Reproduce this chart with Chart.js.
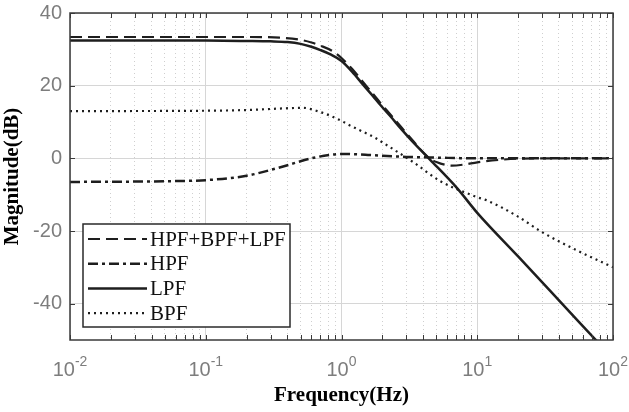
<!DOCTYPE html>
<html>
<head>
<meta charset="utf-8">
<script src="https://cdn.jsdelivr.net/npm/chart.js@4.4.0/dist/chart.umd.min.js"></script>
<style>
  html, body { margin:0; padding:0; background:#fff; }
  #wrap { width:629px; height:412px; position:relative; }
</style>
</head>
<body>
<div id="wrap"><canvas id="bode"></canvas></div>
<script>
// tick values
const X_MAJOR = [0.01, 0.1, 1, 10, 100];
const X_EXP = ["-2", "-1", "0", "1", "2"];
const Y_TICKS = [-40, -20, 0, 20, 40];

// HPF+BPF+LPF (dashed)
const SUM_F  = [0.01, 0.1, 0.2, 0.35, 0.5, 0.6, 0.7, 0.85, 1, 1.2, 1.44, 1.7, 1.92, 2.3, 2.78, 3.3, 4.3, 5, 6.5, 8, 10, 14.8, 20, 40, 100];
const SUM_DB = [33.4, 33.4, 33.4, 33.2, 32.6, 31.9, 31, 29.6, 27.6, 24.6, 21, 17.8, 15.4, 12, 8.4, 5.2, 0.4, -1, -2, -1.7, -1.1, -0.4, -0.1, 0, 0];

// HPF (dash-dot)
const HPF_F  = [0.01, 0.05, 0.1, 0.2, 0.3, 0.4, 0.5, 0.65, 0.85, 1, 1.5, 2, 3, 5, 10, 100];
const HPF_DB = [-6.5, -6.3, -6, -4.8, -3.2, -1.9, -0.8, 0.3, 1.0, 1.2, 1.0, 0.7, 0.4, 0.2, 0, 0];

// LPF (solid)
const LPF_F  = [0.01, 0.1, 0.2, 0.3, 0.4, 0.5, 0.6, 0.7, 0.83, 1, 1.2, 1.44, 1.7, 1.92, 2.3, 2.78, 3.3, 4.5, 7.1, 10, 20, 50, 76, 100];
const LPF_DB = [32.4, 32.4, 32.3, 32.2, 32.0, 31.5, 30.7, 29.8, 28.6, 26.8, 23.8, 20.3, 17.2, 14.8, 11.5, 7.9, 4.8, -0.4, -8.2, -15, -27, -43, -50.3, -55];

// BPF (dotted)
const BPF_F  = [0.01, 0.1, 0.2, 0.35, 0.52, 0.69, 0.83, 1, 1.16, 1.3, 1.76, 2.04, 3.39, 5.3, 10, 11.8, 19.5, 30, 54, 100];
const BPF_DB = [13, 13.1, 13.3, 13.7, 13.9, 12.8, 11.7, 10.3, 9, 8.1, 5.7, 4.2, -1.1, -6.2, -10.7, -11.6, -15.8, -20.3, -25.3, -30];

const pts = (fs, ds) => fs.map((f, i) => ({ x: f, y: ds[i] }));

// minor grid positions 2..9 per decade
const X_MINOR = [];
for (let e = -2; e < 2; e++) for (let m = 2; m <= 9; m++) X_MINOR.push(m * Math.pow(10, e));

const INK = "#1e1e1e";
const TICK_FONT = "Liberation Sans, Arial, sans-serif";
const SERIF = "Liberation Serif, Times New Roman, serif";

const lineBase = { fill:false, pointRadius:0, cubicInterpolationMode:"monotone", borderColor: INK };

// frame with inside tick marks (matlab style box)
const framePlugin = {
  id: "frame",
  afterDatasetsDraw(chart){
    const { ctx, chartArea: a, scales } = chart;
    ctx.save();
    ctx.strokeStyle = "#3a3a3a";
    ctx.lineWidth = 1;
    ctx.beginPath();
    const tl = 5;
    [...X_MAJOR, ...X_MINOR].forEach(v => {
      const px = Math.round(scales.x.getPixelForValue(v)) + 0.5;
      ctx.moveTo(px, a.bottom); ctx.lineTo(px, a.bottom - tl);
      ctx.moveTo(px, a.top); ctx.lineTo(px, a.top + tl);
    });
    Y_TICKS.forEach(v => {
      const py = Math.round(scales.y.getPixelForValue(v)) + 0.5;
      ctx.moveTo(a.left, py); ctx.lineTo(a.left + tl, py);
      ctx.moveTo(a.right, py); ctx.lineTo(a.right - tl, py);
    });
    ctx.stroke();
    ctx.lineWidth = 1.5;
    ctx.strokeRect(a.left, a.top, a.right - a.left, a.bottom - a.top);
    ctx.restore();
  },
  afterDraw(chart){
    // x labels as 10 with superscript exponent
    const { ctx, chartArea: a, scales } = chart;
    ctx.save();
    ctx.fillStyle = "#7d7d7d";
    ctx.textBaseline = "alphabetic";
    X_MAJOR.forEach((v, i) => {
      const px = scales.x.getPixelForValue(v);
      ctx.font = `20px ${TICK_FONT}`;
      const wb = ctx.measureText("10").width;
      ctx.font = `14px ${TICK_FONT}`;
      const we = ctx.measureText(X_EXP[i]).width;
      let x0 = px - (wb + we) / 2;
      ctx.font = `20px ${TICK_FONT}`;
      ctx.textAlign = "left";
      ctx.fillText("10", x0, a.bottom + 36);
      ctx.font = `14px ${TICK_FONT}`;
      ctx.fillText(X_EXP[i], x0 + wb, a.bottom + 26);
    });
    ctx.restore();
  }
};

// legend box inside lower-left of plot
const boxLegend = {
  id: "boxLegend",
  afterDatasetsDraw(chart){
    const { ctx } = chart;
    const bx = 83, by = 224, bw = 207, bh = 103;
    ctx.save();
    ctx.fillStyle = "#fff";
    ctx.fillRect(bx, by, bw, bh);
    ctx.strokeStyle = "#2a2a2a";
    ctx.lineWidth = 1.5;
    ctx.strokeRect(bx, by, bw, bh);
    ctx.font = `21px ${SERIF}`;
    ctx.textBaseline = "middle";
    ctx.textAlign = "left";
    chart.data.datasets.forEach((ds, i) => {
      const y = by + 15 + i * 24.7;
      ctx.strokeStyle = ds.borderColor;
      ctx.lineWidth = ds.borderWidth;
      ctx.setLineDash(ds.borderDash || []);
      ctx.beginPath();
      ctx.moveTo(88, y); ctx.lineTo(147, y);
      ctx.stroke();
      ctx.setLineDash([]);
      ctx.fillStyle = "#111";
      ctx.fillText(ds.label, 150, y + 1);
    });
    ctx.restore();
  }
};

new Chart(document.getElementById("bode"), {
  type: "line",
  data: {
    datasets: [
      { ...lineBase, label:"HPF+BPF+LPF", data: pts(SUM_F, SUM_DB), borderWidth:2.2, borderDash:[12,6] },
      { ...lineBase, label:"HPF", data: pts(HPF_F, HPF_DB), borderWidth:2.5, borderDash:[10,4,3,4] },
      { ...lineBase, label:"LPF", data: pts(LPF_F, LPF_DB), borderWidth:2.5 },
      { ...lineBase, label:"BPF", data: pts(BPF_F, BPF_DB), borderWidth:2.2, borderDash:[2,4] }
    ]
  },
  options: {
    responsive: true,
    maintainAspectRatio: false,
    animation: false,
    layout: { padding: { top:13, right:16, left:0, bottom:0 } },
    plugins: { legend:{ display:false }, tooltip:{ enabled:false } },
    scales: {
      x: {
        type:"logarithmic", min:0.01, max:100, position:"bottom",
        afterBuildTicks: (ax) => { ax.ticks = X_MAJOR.map(v => ({ value:v, major:true })); },
        afterFit: (ax) => { ax.height = 72; ax.paddingLeft = 0; ax.paddingRight = 0; },
        ticks:{ display:false },
        grid:{ color:"#d6d6d6", lineWidth:1, drawTicks:false },
        border:{ display:false },
        title:{ display:true, text:"Frequency(Hz)", color:"#000",
                font:{ family:SERIF, size:21, weight:"bold" }, padding:{ top:0, bottom:4 } }
      },
      xm: {
        type:"logarithmic", min:0.01, max:100, position:"bottom",
        afterBuildTicks: (ax) => { ax.ticks = X_MINOR.map(v => ({ value:v })); },
        afterFit: (ax) => { ax.height = 0; ax.paddingLeft = 0; ax.paddingRight = 0; },
        ticks:{ display:false },
        grid:{ color:"#cfcfcf", lineWidth:1, drawTicks:false },
        border:{ display:false, dash:[1,3] }
      },
      y: {
        type:"linear", min:-50, max:40,
        afterBuildTicks: (ax) => { ax.ticks = Y_TICKS.map(v => ({ value:v })); },
        afterFit: (ax) => { ax.width = 70; ax.paddingTop = 0; ax.paddingBottom = 0; },
        ticks:{ color:"#7d7d7d", padding:8, font:{ family:TICK_FONT, size:20 } },
        grid:{ color:"#d6d6d6", lineWidth:1, drawTicks:false },
        border:{ display:false },
        title:{ display:true, text:"Magnitude(dB)", color:"#000",
                font:{ family:SERIF, size:21, weight:"bold" }, padding:{ top:0, bottom:0 } }
      }
    }
  },
  plugins: [framePlugin, boxLegend]
});
</script>
</body>
</html>
